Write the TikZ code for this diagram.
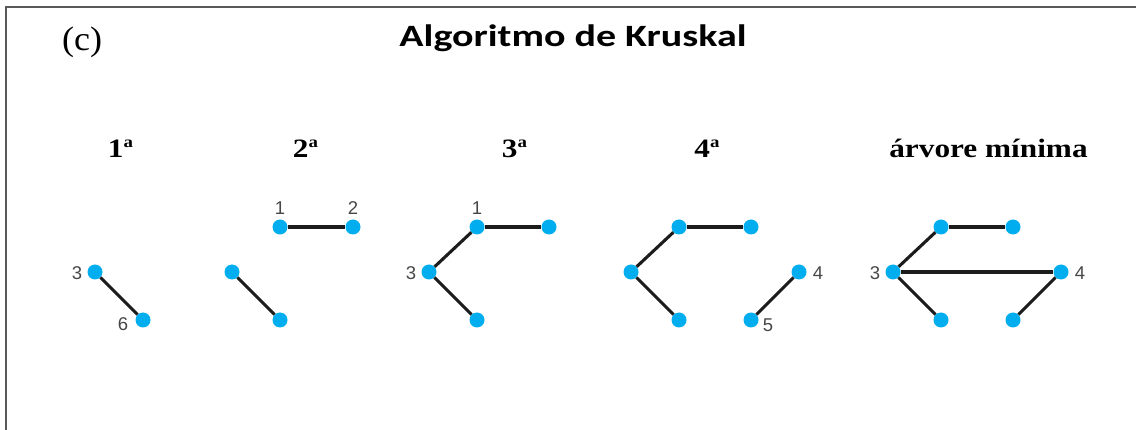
\documentclass[tikz,border=0pt]{standalone}
\usepackage{fontspec}
\setmainfont{Liberation Serif}
\newfontfamily\titlefont[FakeStretch=1.29]{Carlito}
\newfontfamily\headfont[FakeStretch=1.18]{Liberation Serif}
\newfontfamily\labelfont{Liberation Sans}
\definecolor{vertexblue}{RGB}{0,174,239}
\definecolor{edgedark}{RGB}{28,28,28}
\definecolor{labelgray}{RGB}{70,70,70}
\definecolor{framegray}{RGB}{90,90,90}
% ordinal mark: a small bold "a" raised to the top of the digit
\newcommand{\ordmark}{\raisebox{10.6pt}{\fontsize{16}{16}\selectfont a}}
\begin{document}
\begin{tikzpicture}[x=1pt,y=-1pt,
  vertex/.style={circle,fill=vertexblue,inner sep=0pt,minimum size=15pt},
  edge/.style={draw=edgedark,line width=3.1pt},
  num/.style={font=\labelfont\fontsize{18.5}{18.5}\selectfont,text=labelgray,inner sep=0pt},
  head/.style={font=\headfont\bfseries\fontsize{26.5}{26.5}\selectfont,anchor=base,inner sep=0pt}]
\useasboundingbox (0,0) rectangle (1136,430);
% frame
\draw[framegray,line width=2pt] (6,430) -- (6,7) -- (1136,7);
% titles
\node[font=\fontsize{34}{34}\selectfont\addfontfeatures{FakeStretch=1.06},anchor=base,inner sep=0pt] (tag) at (82,51) {(c)};
\node[font=\titlefont\bfseries\fontsize{31}{31}\selectfont,anchor=base,inner sep=0pt] (title) at (573,47) {Algoritmo de Kruskal};
\node[head] (h1) at (120.5,158) {1\ordmark};
\node[head] (h2) at (305.5,158) {2\ordmark};
\node[head] (h3) at (514.5,158) {3\ordmark};
\node[head] (h4) at (707,158) {4\ordmark};
\node[head] (h5) at (988.5,158) {árvore mínima};
% step 1
\node[vertex] (a3) at (95,272) {};
\node[vertex] (a6) at (143,320) {};
\draw[edge] (a3) -- (a6);
\node[num] (la3) at (77,273) {3};
\node[num] (la6) at (123,324) {6};
% step 2
\node[vertex] (b1) at (280,227) {};
\node[vertex] (b2) at (353,227) {};
\node[vertex] (b3) at (232,272) {};
\node[vertex] (b6) at (280,320) {};
\draw[edge] (b1) -- (b2);
\draw[edge] (b3) -- (b6);
\node[num] (lb1) at (280,208) {1};
\node[num] (lb2) at (353,208) {2};
% step 3
\node[vertex] (c1) at (477,227) {};
\node[vertex] (c2) at (549,227) {};
\node[vertex] (c3) at (429,272) {};
\node[vertex] (c6) at (477,320) {};
\draw[edge] (c1) -- (c2);
\draw[edge] (c3) -- (c1);
\draw[edge] (c3) -- (c6);
\node[num] (lc1) at (477,208) {1};
\node[num] (lc3) at (411,273) {3};
% step 4
\node[vertex] (d1) at (679,227) {};
\node[vertex] (d2) at (751,227) {};
\node[vertex] (d3) at (631,272) {};
\node[vertex] (d6) at (679,320) {};
\node[vertex] (d4) at (799,272) {};
\node[vertex] (d5) at (751,320) {};
\draw[edge] (d1) -- (d2);
\draw[edge] (d3) -- (d1);
\draw[edge] (d3) -- (d6);
\draw[edge] (d4) -- (d5);
\node[num] (ld4) at (818,273) {4};
\node[num] (ld5) at (768,325) {5};
% minimum spanning tree
\node[vertex] (e1) at (941,227) {};
\node[vertex] (e2) at (1013,227) {};
\node[vertex] (e3) at (893,272) {};
\node[vertex] (e6) at (941,320) {};
\node[vertex] (e5) at (1013,320) {};
\node[vertex] (e4) at (1061,272) {};
\draw[edge] (e1) -- (e2);
\draw[edge] (e3) -- (e1);
\draw[edge] (e3) -- (e6);
\draw[edge] (e3) -- (e4);
\draw[edge] (e4) -- (e5);
\node[num] (le3) at (875,273) {3};
\node[num] (le4) at (1080,273) {4};
\end{tikzpicture}
\end{document}
